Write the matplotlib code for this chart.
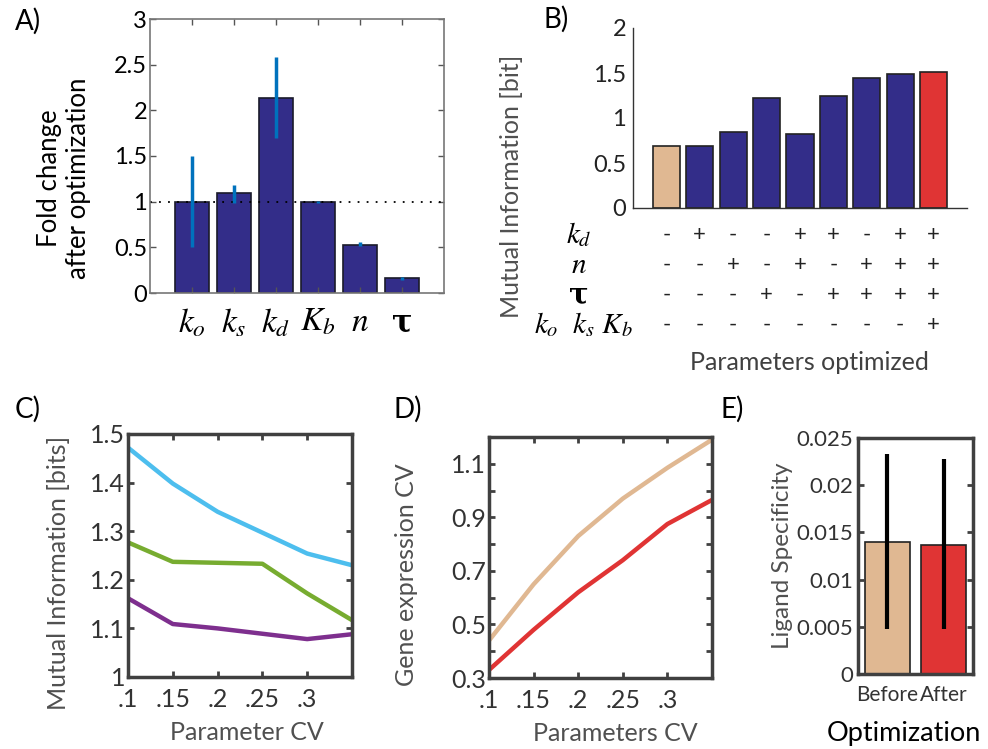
import numpy as np
import matplotlib.pyplot as plt

plt.rcParams['font.family'] = ['Lato', 'DejaVu Sans']
plt.rcParams['mathtext.fontset'] = 'stix'

W, H = 988, 749

# ---- data ----
# A) fold change after optimization
a_labels = [r'$k_o$', r'$k_s$', r'$k_d$', r'$K_b$', r'$n$', 'τ']
a_vals = [1.00, 1.09, 2.14, 1.00, 0.53, 0.16]
a_lo = [0.50, 0.98, 1.70, 0.98, 0.51, 0.14]
a_hi = [1.50, 1.18, 2.58, 1.01, 0.56, 0.17]

# B) mutual information vs parameters optimized
b_vals = [0.69, 0.69, 0.85, 1.22, 0.82, 1.25, 1.45, 1.49, 1.51]
b_rows = ['$k_d$', '$n$', 'τ', r'$k_o\ \ k_s\ K_b$']
b_signs = [
    ['-', '+', '-', '-', '+', '+', '-', '+', '+'],
    ['-', '-', '+', '-', '+', '-', '+', '+', '+'],
    ['-', '-', '-', '+', '-', '+', '+', '+', '+'],
    ['-', '-', '-', '-', '-', '-', '-', '-', '+'],
]

# C) mutual information vs parameter CV
cv = [0.10, 0.15, 0.20, 0.25, 0.30, 0.35]
c_blue = [1.472, 1.398, 1.340, 1.297, 1.254, 1.230]
c_green = [1.277, 1.237, 1.235, 1.233, 1.172, 1.117]
c_purple = [1.162, 1.109, 1.100, 1.089, 1.078, 1.088]

# D) gene expression CV
d_before = [0.44, 0.65, 0.83, 0.97, 1.085, 1.19]
d_after = [0.33, 0.48, 0.62, 0.74, 0.875, 0.965]

# E) ligand specificity
e_labels = ['Before', 'After']
e_vals = [0.0140, 0.0137]
e_lo = [0.0048, 0.0048]
e_hi = [0.0233, 0.0228]

NAVY = '#332D89'
TAN = '#E0B892'
RED = '#E03434'
GRAY = '#404040'


def box(x0, y0, x1, y1):
    return [x0 / W, 1 - y1 / H, (x1 - x0) / W, (y1 - y0) / H]


fig = plt.figure(figsize=(W / 100, H / 100), dpi=100)

# ══════════ A ══════════
ax = fig.add_axes(box(150, 19, 444, 293))
xa = np.arange(1, 7)
ax.bar(xa, a_vals, width=0.8, color=NAVY, edgecolor='#1a1a2a', linewidth=1.2)
ax.vlines(xa, a_lo, a_hi, color='#0072BD', linewidth=2.5, zorder=3)
ax.axhline(1, color='black', linestyle=(0, (1, 4)), linewidth=1.3)
ax.set_xlim(0, 7)
ax.set_ylim(0, 3)
ax.set_yticks(np.arange(0, 3.01, 0.5))
ax.set_yticklabels(['0', '0.5', '1', '1.5', '2', '2.5', '3'])
ax.set_xticks(xa)
ax.tick_params(direction='in', top=True, right=True, length=4, width=1,
               color='#555555', labelsize=17, labelcolor='black')
ax.tick_params(axis='x', pad=10)
ax.tick_params(axis='y', pad=2)
ax.set_xticklabels(a_labels, fontsize=24)
ax.get_xticklabels()[5].set_fontfamily('DejaVu Serif')
ax.get_xticklabels()[5].set_fontweight('bold')
ax.get_xticklabels()[5].set_fontsize(22)
for s in ax.spines.values():
    s.set_color('#777777')
    s.set_linewidth(1.2)
ax.set_ylabel('Fold change\nafter optimization', fontsize=18.5, color='black',
              linespacing=1.2)
ax.yaxis.set_label_coords(-0.20, 0.42)

# ══════════ B ══════════
ax = fig.add_axes(box(633, 28, 967, 208))
xb = np.arange(1, 10)
colors = [TAN] + [NAVY] * 7 + [RED]
ax.bar(xb, b_vals, width=0.82, color=colors, edgecolor='#222222', linewidth=1.2)
ax.set_xlim(0, 10)
ax.set_ylim(0, 2)
ax.set_yticks([0, 0.5, 1, 1.5, 2])
ax.set_yticklabels(['0', '0.5', '1', '1.5', '2'])
ax.set_xticks([])
ax.tick_params(axis='y', length=0, labelsize=17, labelcolor='#222222', pad=5)
ax.spines['top'].set_visible(False)
ax.spines['right'].set_visible(False)
ax.spines['left'].set_color('#333333')
ax.spines['bottom'].set_color('#333333')
ax.spines['left'].set_linewidth(1.0)
ax.spines['bottom'].set_linewidth(1.0)
row_y = [-0.30, -0.633, -0.967, -1.30]
for r, (lab, signs) in enumerate(zip(b_rows, b_signs)):
    for i, s in enumerate(signs):
        ax.text(xb[i], row_y[r], s, ha='center', va='center', fontsize=16,
                color='#222222', clip_on=False)
    if lab == 'τ':
        ax.text(-1.62, row_y[r], lab, ha='center', va='center', fontsize=21,
                family='DejaVu Serif', weight='bold', clip_on=False)
    elif r == 3:
        ax.text(-1.5, row_y[r], lab, ha='center', va='center', fontsize=21,
                clip_on=False)
    else:
        ax.text(-1.62, row_y[r], lab, ha='center', va='center', fontsize=21,
                clip_on=False)
ax.text(5.27, -1.72, 'Parameters optimized', ha='center', va='center',
        fontsize=18, color='#404040', clip_on=False)
ax.set_ylabel('Mutual Information [bit]', fontsize=18, color='#505050')
ax.yaxis.set_label_coords(-0.33, 0.12)


def style_box(ax, size=17):
    for s in ax.spines.values():
        s.set_color(GRAY)
        s.set_linewidth(2.5)
    ax.tick_params(direction='in', top=True, right=True, length=4, width=2,
                   color=GRAY, labelsize=size, labelcolor='#333333')


cv_labels = ['.1', '.15', '.2', '.25', '.3', '']

# ══════════ C ══════════
ax = fig.add_axes(box(128, 434, 352, 677))
ax.plot(cv, c_blue, color='#4DBEEE', linewidth=3.2)
ax.plot(cv, c_green, color='#77AC30', linewidth=3.2)
ax.plot(cv, c_purple, color='#7E2F8E', linewidth=3.2)
ax.set_xlim(0.1, 0.35)
ax.set_ylim(1.0, 1.5)
ax.set_xticks(cv)
ax.set_xticklabels(cv_labels)
ax.set_yticks([1.0, 1.1, 1.2, 1.3, 1.4, 1.5])
ax.set_yticklabels(['1', '1.1', '1.2', '1.3', '1.4', '1.5'])
style_box(ax, 18)
ax.tick_params(axis='x', pad=8)
ax.tick_params(axis='y', pad=2)
ax.set_ylabel('Mutual Information [bits]', fontsize=18, color='#505050')
ax.yaxis.set_label_coords(-0.26, 0.43)
ax.set_xlabel('Parameter CV', fontsize=18, color='#505050')
ax.xaxis.set_label_coords(0.53, -0.18)

# ══════════ D ══════════
ax = fig.add_axes(box(489, 437, 712, 678))
ax.plot(cv, d_before, color=TAN, linewidth=3.2)
ax.plot(cv, d_after, color=RED, linewidth=3.2)
ax.set_xlim(0.1, 0.35)
ax.set_ylim(0.3, 1.2)
ax.set_xticks(cv)
ax.set_xticklabels(cv_labels)
d_ticks = [0.3, 0.4, 0.5, 0.6, 0.7, 0.8, 0.9, 1.0, 1.1, 1.2]
ax.set_yticks(d_ticks)
ax.set_yticklabels(['0.3', '', '0.5', '', '0.7', '', '0.9', '', '1.1', ''])
style_box(ax, 18)
ax.tick_params(axis='x', pad=8)
ax.tick_params(axis='y', pad=2)
ax.set_ylabel('Gene expression CV', fontsize=18, color='#505050')
ax.yaxis.set_label_coords(-0.317, 0.43)
ax.set_xlabel('Parameters CV', fontsize=18, color='#505050')
ax.xaxis.set_label_coords(0.565, -0.183)

# ══════════ E ══════════
ax = fig.add_axes(box(858, 438, 973, 674))
xe = np.arange(1, 3)
ax.bar(xe, e_vals, width=0.8, color=[TAN, RED], edgecolor='#222222',
       linewidth=1.2)
ax.vlines(xe, e_lo, e_hi, color='black', linewidth=3.0, zorder=3)
ax.set_xlim(0.48, 2.52)
ax.set_ylim(0, 0.025)
ax.set_xticks(xe)
ax.set_xticklabels(e_labels)
ax.set_yticks([0, 0.005, 0.01, 0.015, 0.02, 0.025])
ax.set_yticklabels(['0', '0.005', '0.01', '0.015', '0.02', '0.025'])
style_box(ax, 16)
ax.tick_params(axis='x', length=0, labelsize=15, pad=8)
ax.set_ylabel('Ligand Specificity', fontsize=17.5, color='#505050')
ax.yaxis.set_label_coords(-0.565, 0.50)
ax.set_xlabel('Optimization', fontsize=19.5, color='black')
ax.xaxis.set_label_coords(0.40, -0.20)

# panel letters
for lab, px, py in [('A)', 15, 8), ('B)', 543, 6), ('C)', 15, 396),
                    ('D)', 393, 396), ('E)', 720, 396)]:
    fig.text(px / W, 1 - py / H, lab, fontsize=20, ha='left', va='top')

fig.savefig('out.png', dpi=100)
